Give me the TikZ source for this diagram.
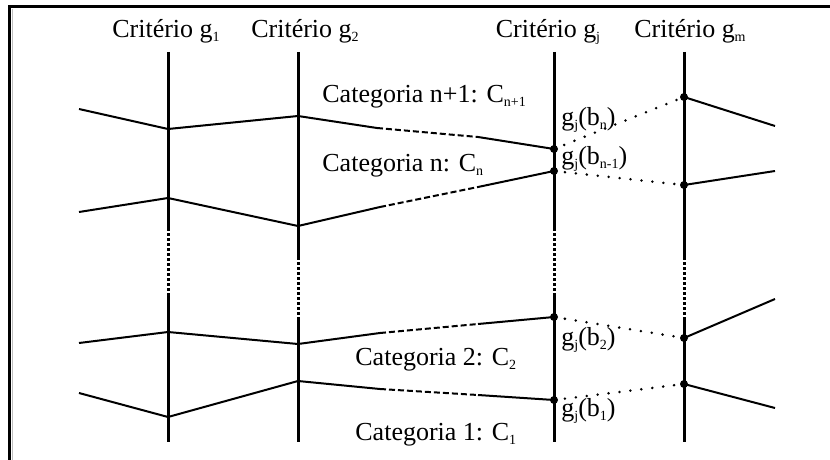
\documentclass[tikz,border=0pt]{standalone}
\usepackage{fontspec}
\setmainfont{Liberation Serif}
\newcommand{\lo}[1]{\raisebox{-0.3ex}{\fontsize{7}{7}\selectfont #1}}

\begin{document}
\begin{tikzpicture}[x=0.5pt,y=-0.5pt,
  axis/.style={line width=1.5pt},
  axisgap/.style={line width=1.5pt,dash pattern=on 1.5pt off 1pt},
  bound/.style={line width=1pt},
  boundgap/.style={line width=1pt,dash pattern=on 3pt off 1.5pt},
  link/.style={line width=1.4pt,line cap=round,dash pattern=on 0pt off 5.5pt},
  lbl/.style={inner sep=0pt,font=\fontsize{13}{15}\selectfont}]
  \useasboundingbox (0,0) rectangle (830,460);
  \draw[line width=1.5pt] (9,460) -- (9,7) -- (830,7);
  \draw[gray!50,line width=0.8pt] (12.5,9) -- (12.5,460);
  % criteria axes
  \foreach \n/\x/\ga/\gb in {1/168/228/293,2/298/257/317,j/554/228/293,m/684/257/317}{
    \coordinate (top\n) at (\x,52);
    \coordinate (ga\n) at (\x,\ga);
    \coordinate (gb\n) at (\x,\gb);
    \coordinate (bot\n) at (\x,442);
    \draw[axis] (top\n) -- (ga\n);
    \draw[axisgap] (ga\n) -- (gb\n);
    \draw[axis] (gb\n) -- (bot\n);
  }
  % category boundaries b_n, b_{n-1}, b_2, b_1
  \foreach \k/\ya/\yb/\yc/\xd/\yd/\ye/\yf/\yg/\yh in {
      n/109/129/116/377/128/137/149/97/126,
      m/212/198/226/380/207/187/171/185/171,
      two/343/332/344/380/333/324/317/338/299,
      one/393/417/381/380/389/395/400/384/408}{
    \coordinate (\k0) at (79,\ya);
    \coordinate (\k1) at (168,\yb);
    \coordinate (\k2) at (298,\yc);
    \coordinate (\k3) at (\xd,\yd);
    \coordinate (\k4) at (478,\ye);
    \coordinate (\k5) at (554,\yf);
    \coordinate (\k6) at (684,\yg);
    \coordinate (\k7) at (775,\yh);
    \draw[bound] (\k0) -- (\k1) -- (\k2) -- (\k3);
    \draw[boundgap] (\k3) -- (\k4);
    \draw[bound] (\k4) -- (\k5);
    \draw[link] (\k5) -- (\k6);
    \draw[bound] (\k6) -- (\k7);
    \fill (\k5) circle (2pt) (\k6) circle (2pt);
  }
  % headings
  \node[lbl,anchor=base] (hd1) at (166,38) {Critério g\lo{1}};
  \node[lbl,anchor=base] (hd2) at (305,38) {Critério g\lo{2}};
  \node[lbl,anchor=base] (hdj) at (548,38) {Critério g\lo{j}};
  \node[lbl,anchor=base] (hdm) at (690,38) {Critério g\lo{m}};
  % categories
  \node[lbl,anchor=west] (catn1) at (322,97) {Categoria n+1: C\lo{n+1}};
  \node[lbl,anchor=west] (catn) at (322,166) {Categoria n: C\lo{n}};
  \node[lbl,anchor=west] (cat2) at (355,360) {Categoria 2: C\lo{2}};
  \node[lbl,anchor=west] (cat1) at (355,435) {Categoria 1: C\lo{1}};
  % profile values
  \node[lbl,anchor=west] (vn) at (561,120) {g\lo{j}(b\lo{n})};
  \node[lbl,anchor=west] (vm) at (561,159) {g\lo{j}(b\lo{n-1})};
  \node[lbl,anchor=west] (v2) at (561,340) {g\lo{j}(b\lo{2})};
  \node[lbl,anchor=west] (v1) at (561,411) {g\lo{j}(b\lo{1})};
\end{tikzpicture}
\end{document}
